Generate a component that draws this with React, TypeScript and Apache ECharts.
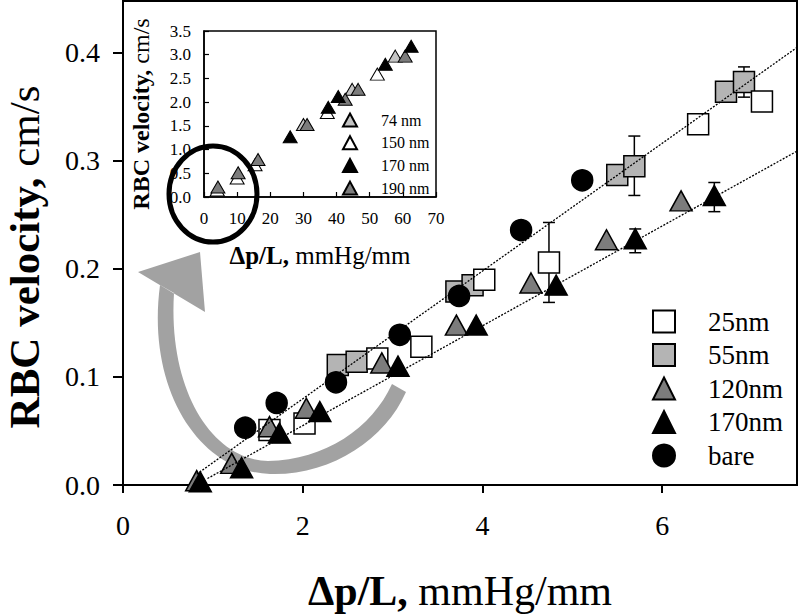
import React, { useEffect, useRef } from 'react';
import * as echarts from 'echarts';

const FONT = 'Liberation Serif';

// Main axes tick values
const mainXTicks = [0, 2, 4, 6];
const mainYTicks = [0, 0.1, 0.2, 0.3, 0.4];

// Main series
const x25 = [1.63, 2.02, 2.83, 3.32, 4.02, 4.74, 6.4, 7.11];
const y25 = [0.051, 0.057, 0.117, 0.128, 0.19, 0.206, 0.334, 0.355];
const x55 = [2.39, 2.6, 3.71, 3.89, 5.5, 5.69, 6.71, 6.91];
const y55 = [0.111, 0.114, 0.179, 0.185, 0.287, 0.295, 0.364, 0.373];
const x120 = [0.82, 1.21, 1.63, 2.04, 2.88, 3.71, 4.54, 5.38, 6.21];
const y120 = [0.004, 0.02, 0.054, 0.071, 0.113, 0.148, 0.187, 0.227, 0.263];
const x170 = [0.86, 1.32, 1.74, 2.19, 3.06, 3.93, 4.82, 5.7, 6.58];
const y170 = [0.003, 0.016, 0.048, 0.068, 0.11, 0.148, 0.185, 0.228, 0.268];
const xBare = [1.36, 1.71, 2.37, 3.08, 3.74, 4.43, 5.11];
const yBare = [0.053, 0.076, 0.095, 0.139, 0.175, 0.236, 0.282];

// Error bars (x, low, high)
const errX = [4.74, 5.69, 6.91, 5.7, 6.58];
const errLow = [0.169, 0.268, 0.359, 0.215, 0.253];
const errHigh = [0.243, 0.323, 0.387, 0.237, 0.28];

// Fitted lines
const fitUpperX = [0.82, 7.5];
const fitUpperY = [0.01, 0.405];
const fitLowerX = [0.94, 7.5];
const fitLowerY = [0.006, 0.309];

// Inset series
const in74X = [30.0, 44.7, 57.7];
const in74Y = [1.53, 2.27, 2.97];
const in150X = [4.0, 10.0, 15.4, 37.2, 52.3];
const in150Y = [0.15, 0.4, 0.68, 1.78, 2.59];
const in170X = [26.0, 37.5, 40.5, 54.7, 62.5];
const in170Y = [1.27, 1.89, 2.12, 2.8, 3.18];
const in190X = [4.2, 10.3, 16.3, 31.1, 42.6, 46.5, 60.7];
const in190Y = [0.21, 0.51, 0.79, 1.53, 2.06, 2.27, 2.97];

const zip = (xs: number[], ys: number[]) => xs.map((x, i) => [x, ys[i]]);

const arrowPath =
  'M160 285 C146 390 200 472 270 474 C330 476 385 440 406 392 L392 384 C372 428 325 460 268 461 C212 460 168 390 174 293 Z M138 272 L200 252 L205 312 Z';

let registered = false;
const NBSP = '\u00a0';

export default function App() {
  const ref = useRef<HTMLDivElement>(null);
  useEffect(() => {
    if (!ref.current) return;
    if (!registered) {
      echarts.graphic.registerShape('curvedArrow', echarts.graphic.extendPath(arrowPath, {}) as any);
      registered = true;
    }
    const chart = echarts.init(ref.current, null, { renderer: 'svg' });
    const mainSym = (color: string) => ({ color, borderColor: '#000', borderWidth: 1.5, opacity: 1 });
    const insetSym = (color: string) => ({ color, borderColor: '#000', borderWidth: 1, opacity: 1 });
    const rich = (size: number, lh: number) => ({
      b: { fontFamily: FONT, fontSize: size, fontWeight: 'bold', color: '#000', lineHeight: lh },
      r: { fontFamily: FONT, fontSize: size, color: '#000', lineHeight: lh },
    });
    const xTitle = `{b|Δp/L,${NBSP}}{r|mmHg/mm}`;
    const yTitle = `{b|RBC velocity,${NBSP}}{r|cm/s}`;
    const option: any = {
      animation: false,
      backgroundColor: '#fff',
      textStyle: { fontFamily: FONT, color: '#000' },
      grid: [
        { left: 123, top: 1, width: 674, height: 484, show: true, borderColor: '#000', borderWidth: 2, backgroundColor: 'transparent', outerBoundsMode: 'none', containLabel: false },
        { left: 204, top: 31, width: 232, height: 166, show: true, borderColor: '#000', borderWidth: 1.5, backgroundColor: 'transparent', outerBoundsMode: 'none', containLabel: false },
      ],
      xAxis: [
        {
          gridIndex: 0, type: 'value', min: 0, max: 7.5,
          name: xTitle, nameLocation: 'middle', nameGap: 84,
          nameTextStyle: { rich: rich(42, 44) },
          axisLine: { lineStyle: { color: '#000', width: 2 } },
          axisTick: { inside: false, length: 8, lineStyle: { color: '#000', width: 2 }, customValues: mainXTicks },
          axisLabel: { fontSize: 28, fontFamily: FONT, color: '#000', margin: 26, customValues: mainXTicks, formatter: (v: number) => String(v) },
          splitLine: { show: false },
        },
        {
          gridIndex: 1, type: 'value', min: 0, max: 70, interval: 10,
          name: xTitle, nameLocation: 'middle', nameGap: 45,
          nameTextStyle: { rich: rich(25, 26) },
          axisLine: { lineStyle: { color: '#000', width: 1.5 } },
          axisTick: { inside: true, length: 5, lineStyle: { color: '#000', width: 1.2 } },
          axisLabel: { fontSize: 17, fontFamily: FONT, color: '#000', margin: 13 },
          splitLine: { show: false },
        },
      ],
      yAxis: [
        {
          gridIndex: 0, type: 'value', min: 0, max: 0.448,
          name: yTitle, nameLocation: 'middle', nameGap: 80,
          nameTextStyle: { padding: [0, 28, 0, 0], rich: rich(43, 38) },
          axisLine: { lineStyle: { color: '#000', width: 2 } },
          axisTick: { inside: false, length: 10, lineStyle: { color: '#000', width: 2 }, customValues: mainYTicks },
          axisLabel: { fontSize: 28, fontFamily: FONT, color: '#000', margin: 23, customValues: mainYTicks, formatter: (v: number) => v.toFixed(1) },
          splitLine: { show: false },
        },
        {
          gridIndex: 1, type: 'value', min: 0, max: 3.5, interval: 0.5,
          name: yTitle, nameLocation: 'middle', nameGap: 51,
          nameTextStyle: { rich: rich(24, 24) },
          axisLine: { lineStyle: { color: '#000', width: 1.5 } },
          axisTick: { inside: true, length: 5, lineStyle: { color: '#000', width: 1.2 } },
          axisLabel: { fontSize: 17, fontFamily: FONT, color: '#000', margin: 13, formatter: (v: number) => v.toFixed(1) },
          splitLine: { show: false },
        },
      ],
      legend: [
        {
          data: ['25nm', '55nm', '120nm', '170nm', 'bare'],
          orient: 'vertical', left: 652, top: 308, itemWidth: 22, itemHeight: 22, itemGap: 6.5, padding: 0,
          selectedMode: false,
          textStyle: { fontFamily: FONT, fontSize: 27, color: '#000', padding: [0, 0, 0, 28] },
        },
        {
          data: ['74 nm', '150 nm', '170 nm', '190 nm'],
          orient: 'vertical', left: 342, top: 112, itemWidth: 14, itemHeight: 13, itemGap: 6.7, padding: 0,
          selectedMode: false,
          textStyle: { fontFamily: FONT, fontSize: 16, color: '#000', padding: [0, 0, 0, 19] },
        },
      ],
      graphic: [
        { type: 'curvedArrow', x: 0, y: 0, z: 1, silent: true, style: { fill: '#a2a2a2' } },
        { type: 'ellipse', z: 50, silent: true, shape: { cx: 213, cy: 194, rx: 44, ry: 48 }, style: { fill: 'none', stroke: '#000', lineWidth: 5 } },
      ],
      series: [
        {
          type: 'custom', name: 'errorbars', xAxisIndex: 0, yAxisIndex: 0, z: 2,
          data: errX.map((x, i) => [x, errLow[i], errHigh[i]]),
          encode: { x: 0, y: [1, 2] },
          renderItem: (params: any, api: any) => {
            const x = api.value(0);
            const p1 = api.coord([x, api.value(1)]);
            const p2 = api.coord([x, api.value(2)]);
            const w = 6;
            const st = { stroke: '#000', lineWidth: 1.5 };
            return {
              type: 'group',
              children: [
                { type: 'line', shape: { x1: p1[0], y1: p1[1], x2: p2[0], y2: p2[1] }, style: st },
                { type: 'line', shape: { x1: p1[0] - w, y1: p1[1], x2: p1[0] + w, y2: p1[1] }, style: st },
                { type: 'line', shape: { x1: p2[0] - w, y1: p2[1], x2: p2[0] + w, y2: p2[1] }, style: st },
              ],
            };
          },
        },
        { type: 'scatter', name: '55nm', xAxisIndex: 0, yAxisIndex: 0, z: 3, symbol: 'rect', symbolSize: 21, itemStyle: mainSym('#b4b4b4'), data: zip(x55, y55) },
        { type: 'scatter', name: '25nm', xAxisIndex: 0, yAxisIndex: 0, z: 3, symbol: 'rect', symbolSize: 21, itemStyle: mainSym('#ffffff'), data: zip(x25, y25) },
        { type: 'scatter', name: 'bare', xAxisIndex: 0, yAxisIndex: 0, z: 3, symbol: 'circle', symbolSize: 21, itemStyle: mainSym('#000000'), data: zip(xBare, yBare) },
        { type: 'scatter', name: '120nm', xAxisIndex: 0, yAxisIndex: 0, z: 3, symbol: 'triangle', symbolSize: [22, 20], itemStyle: mainSym('#7c7c7c'), data: zip(x120, y120) },
        { type: 'scatter', name: '170nm', xAxisIndex: 0, yAxisIndex: 0, z: 3, symbol: 'triangle', symbolSize: [22, 20], itemStyle: mainSym('#000000'), data: zip(x170, y170) },
        { type: 'line', name: 'fitUpper', xAxisIndex: 0, yAxisIndex: 0, z: 4, symbol: 'none', lineStyle: { color: '#000', width: 1.3, type: [2, 1.5] }, data: zip(fitUpperX, fitUpperY) },
        { type: 'line', name: 'fitLower', xAxisIndex: 0, yAxisIndex: 0, z: 4, symbol: 'none', lineStyle: { color: '#000', width: 1.3, type: [2, 1.5] }, data: zip(fitLowerX, fitLowerY) },
        { type: 'scatter', name: '150 nm', xAxisIndex: 1, yAxisIndex: 1, z: 3, symbol: 'triangle', symbolSize: [14, 12], itemStyle: insetSym('#ffffff'), data: zip(in150X, in150Y) },
        { type: 'scatter', name: '74 nm', xAxisIndex: 1, yAxisIndex: 1, z: 3, symbol: 'triangle', symbolSize: [14, 12], itemStyle: insetSym('#c4c4c4'), data: zip(in74X, in74Y) },
        { type: 'scatter', name: '190 nm', xAxisIndex: 1, yAxisIndex: 1, z: 3, symbol: 'triangle', symbolSize: [14, 12], itemStyle: insetSym('#7c7c7c'), data: zip(in190X, in190Y) },
        { type: 'scatter', name: '170 nm', xAxisIndex: 1, yAxisIndex: 1, z: 3, symbol: 'triangle', symbolSize: [14, 12], itemStyle: insetSym('#000000'), data: zip(in170X, in170Y) },
      ],
    };
    chart.setOption(option);
    return () => chart.dispose();
  }, []);
  return <div ref={ref} style={{ position: 'fixed', left: 0, top: 0, width: 800, height: 614, background: '#fff' }} />;
}
